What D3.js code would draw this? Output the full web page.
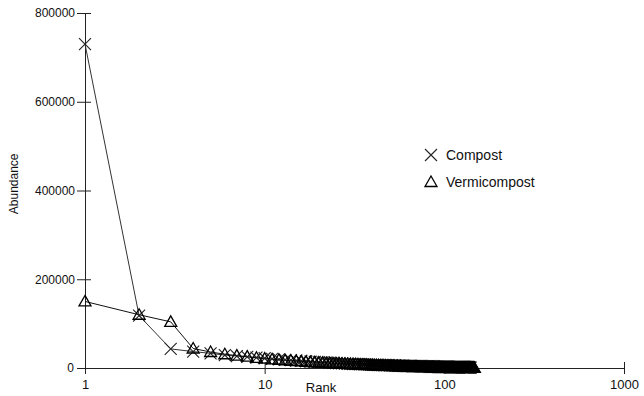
<!DOCTYPE html>
<html>
<head>
<meta charset="utf-8">
<script src="https://cdn.jsdelivr.net/npm/d3@7"></script>
<style>
  body { margin: 0; background: #fff; }
  svg { display: block; font-family: Arial, "Liberation Sans", sans-serif; }
</style>
</head>
<body>
<div id="chart"></div>
<script>
// rank-abundance values, index 0 = rank 1
var compost = [
  730000, 118000, 43000, 37000, 33000, 29000, 27000, 25000, 23500, 22000,
  20500, 19500, 18500, 17500, 16800, 16000, 15200, 14500, 13900, 13300,
  12800, 12300, 11800, 11400, 11000, 10600, 10200, 9900, 9600, 9300,
  9000, 8800, 8500, 8300, 8100, 7900, 7700, 7500, 7300, 7100,
  6950, 6800, 6650, 6500, 6350, 6200, 6050, 5900, 5750, 5600,
  5480, 5360, 5240, 5120, 5000, 4890, 4780, 4670, 4560, 4460,
  4360, 4260, 4170, 4080, 3990, 3900, 3820, 3740, 3660, 3580,
  3500, 3430, 3360, 3290, 3220, 3150, 3090, 3030, 2970, 2910,
  2850, 2790, 2730, 2680, 2630, 2580, 2530, 2480, 2430, 2380,
  2330, 2280, 2240, 2200, 2160, 2120, 2080, 2040, 2000, 1960,
  1920, 1880, 1840, 1800, 1770, 1740, 1710, 1680, 1650, 1620,
  1590, 1560, 1530, 1500, 1470, 1440, 1410, 1380, 1350, 1320,
  1290, 1260, 1230, 1200, 1170, 1140, 1110, 1080, 1050, 1020,
  990, 960, 930, 900, 870, 840, 810, 780, 750, 720
];
var vermicompost = [
  150000, 120000, 104000, 44000, 36000, 31000, 28000, 25500, 23000, 21000,
  19500, 18200, 17200, 16300, 15500, 14800, 14100, 13500, 12900, 12400,
  11900, 11400, 11000, 10600, 10200, 9800, 9500, 9200, 8900, 8600,
  8350, 8100, 7850, 7600, 7400, 7200, 7000, 6800, 6600, 6420,
  6250, 6080, 5920, 5760, 5600, 5460, 5320, 5180, 5040, 4910,
  4790, 4670, 4550, 4440, 4330, 4220, 4120, 4020, 3920, 3830,
  3740, 3650, 3560, 3480, 3400, 3320, 3240, 3170, 3100, 3030,
  2960, 2900, 2840, 2780, 2720, 2660, 2600, 2550, 2500, 2450,
  2400, 2350, 2300, 2250, 2210, 2170, 2130, 2090, 2050, 2010,
  1970, 1930, 1890, 1860, 1830, 1800, 1770, 1740, 1710, 1680,
  1650, 1620, 1590, 1560, 1530, 1500, 1470, 1440, 1410, 1380,
  1350, 1320, 1290, 1260, 1230, 1200, 1180, 1160, 1140, 1120,
  1100, 1080, 1060, 1040, 1020, 1000, 980, 960, 940, 920,
  900, 880, 860, 840, 820, 800, 780, 760, 740, 720,
  700, 680, 660, 640, 620, 600, 580
];
var xTicks = [1, 10, 100, 1000];
var yTicks = [0, 200000, 400000, 600000, 800000];
var seriesNames = ["Compost", "Vermicompost"];

var width = 644, height = 396;
var margin = {top: 13, right: 20, bottom: 28, left: 85};

var svg = d3.select("#chart").append("svg")
  .attr("width", width)
  .attr("height", height);

var x = d3.scaleLog().domain([1, 1000]).range([margin.left, 624]);
var y = d3.scaleLinear().domain([0, 800000]).range([height - margin.bottom, margin.top]);

// axes
var xAxis = svg.append("g")
  .attr("transform", "translate(0," + y(0) + ")")
  .call(d3.axisBottom(x).tickValues(xTicks).tickFormat(d3.format("d")).tickSizeInner(6).tickSizeOuter(0).tickPadding(4));
xAxis.selectAll(".tick line").attr("y1", -6);

var yAxis = svg.append("g")
  .attr("transform", "translate(" + x(1) + ",0)")
  .call(d3.axisLeft(y).tickValues(yTicks).tickFormat(d3.format("d")).tickSizeInner(8).tickSizeOuter(0).tickPadding(2));
yAxis.selectAll(".tick line").attr("x1", 6).attr("x2", -8);

svg.selectAll(".domain").attr("stroke", "#222");
svg.selectAll(".tick line").attr("stroke", "#222");
svg.selectAll(".tick text").attr("fill", "#111").attr("font-family", "Arial, 'Liberation Sans', sans-serif");
yAxis.selectAll(".tick text").attr("font-size", 12);
xAxis.selectAll(".tick text").attr("font-size", 13).attr("dy", "0.85em");
yAxis.selectAll(".tick text").filter(function(d) { return d === 0; }).attr("dx", -1);

svg.append("text")
  .attr("x", 321).attr("y", 392)
  .attr("text-anchor", "middle")
  .attr("font-size", 13)
  .attr("fill", "#111")
  .text("Rank");

svg.append("text")
  .attr("transform", "translate(18," + y(415000) + ") rotate(-90)")
  .attr("text-anchor", "middle")
  .attr("font-size", 12)
  .attr("fill", "#111")
  .text("Abundance");

// markers
function cross(g, s) {
  g.append("path").attr("d", "M" + (-s) + "," + (-s) + "L" + s + "," + s + "M" + (-s) + "," + s + "L" + s + "," + (-s))
    .attr("stroke", "#222").attr("stroke-width", 1.1).attr("fill", "none");
}
function tri(g, s) {
  g.append("path").attr("d", "M0," + (-s) + "L" + s + "," + (s * 0.75) + "L" + (-s) + "," + (s * 0.75) + "Z")
    .attr("stroke", "#000").attr("stroke-width", 1.3).attr("fill", "none");
}

var line = d3.line()
  .x(function(d, i) { return x(i + 1); })
  .y(function(d) { return y(d); });

var series = [
  {name: seriesNames[0], values: compost, marker: cross, color: "#333"},
  {name: seriesNames[1], values: vermicompost, marker: tri, color: "#111"}
];

series.forEach(function(s) {
  svg.append("path")
    .datum(s.values)
    .attr("d", line)
    .attr("fill", "none")
    .attr("stroke", s.color)
    .attr("stroke-width", 1);
});

series.forEach(function(s) {
  svg.append("g").selectAll("g")
    .data(s.values)
    .enter().append("g")
    .attr("transform", function(d, i) { return "translate(" + x(i + 1) + "," + y(d) + ")"; })
    .each(function() { s.marker(d3.select(this), 6); });
});

// legend
var legend = svg.append("g").attr("transform", "translate(431,155)");
series.forEach(function(s, i) {
  var row = legend.append("g").attr("transform", "translate(0," + (i * 27) + ")");
  s.marker(row, 6);
  row.append("text")
    .attr("x", 15).attr("y", 5)
    .attr("font-size", 14)
    .attr("fill", "#111")
    .text(s.name);
});
</script>
</body>
</html>
